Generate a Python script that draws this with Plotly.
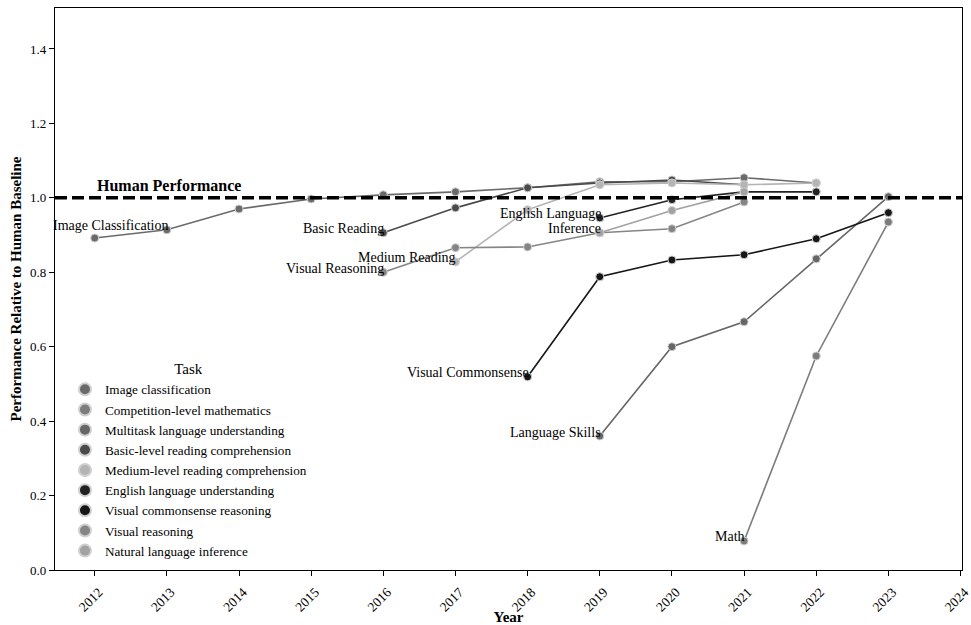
import plotly.graph_objects as go

# AI benchmark performance relative to the human baseline (1.0 = human level)
tasks = [
    "Image classification",
    "Competition-level mathematics",
    "Multitask language understanding",
    "Basic-level reading comprehension",
    "Medium-level reading comprehension",
    "English language understanding",
    "Visual commonsense reasoning",
    "Visual reasoning",
    "Natural language inference",
]

image_cls_years = [2012, 2013, 2014, 2015, 2016, 2017, 2018, 2019, 2020, 2021, 2022]
image_cls_vals = [0.892, 0.914, 0.970, 0.997, 1.008, 1.016, 1.027, 1.043, 1.043, 1.054, 1.040]

math_years = [2021, 2022, 2023]
math_vals = [0.078, 0.575, 0.935]

mmlu_years = [2019, 2020, 2021, 2022, 2023]
mmlu_vals = [0.360, 0.600, 0.667, 0.836, 1.003]

basic_read_years = [2016, 2017, 2018, 2019, 2020, 2021]
basic_read_vals = [0.906, 0.973, 1.027, 1.040, 1.048, 1.035]

medium_read_years = [2017, 2018, 2019, 2020, 2021, 2022]
medium_read_vals = [0.828, 0.968, 1.035, 1.040, 1.035, 1.040]

english_years = [2019, 2020, 2021, 2022]
english_vals = [0.946, 0.995, 1.016, 1.016]

vcr_years = [2018, 2019, 2020, 2021, 2022, 2023]
vcr_vals = [0.519, 0.788, 0.833, 0.847, 0.890, 0.960]

visual_reason_years = [2016, 2017, 2018, 2019, 2020, 2021]
visual_reason_vals = [0.800, 0.866, 0.868, 0.906, 0.917, 0.989]

nli_years = [2019, 2020, 2021]
nli_vals = [0.906, 0.966, 1.016]

series_years = [image_cls_years, math_years, mmlu_years, basic_read_years,
                medium_read_years, english_years, vcr_years,
                visual_reason_years, nli_years]
series_vals = [image_cls_vals, math_vals, mmlu_vals, basic_read_vals,
               medium_read_vals, english_vals, vcr_vals,
               visual_reason_vals, nli_vals]
series_colors = ["#6a6a6a", "#7c7c7c", "#666666", "#4a4a4a", "#b4b4b4",
                 "#222222", "#161616", "#858585", "#a2a2a2"]

# Short labels drawn beside one point of each line (series index, label, point index)
short_labels = [
    (0, "Image Classification", 1),
    (3, "Basic Reading", 0),
    (7, "Visual Reasoning", 0),
    (4, "Medium Reading", 0),
    (5, "English Language", 0),
    (8, "Inference", 0),
    (6, "Visual Commonsense", 0),
    (2, "Language Skills", 0),
    (1, "Math", 0),
]

year_ticks = list(range(2012, 2025))
y_ticks = [0.0, 0.2, 0.4, 0.6, 0.8, 1.0, 1.2, 1.4]

FONT = "Liberation Serif, Times New Roman, serif"

fig = go.Figure()

for name, xs, ys, col in zip(tasks, series_years, series_vals, series_colors):
    fig.add_trace(go.Scatter(
        x=xs, y=ys, name=name, mode="lines+markers", showlegend=False,
        line=dict(color=col, width=1.6),
        marker=dict(color=col, size=8, line=dict(color="#d0d0d0", width=1)),
    ))

# Legend entries show the marker only
for name, col in zip(tasks, series_colors):
    fig.add_trace(go.Scatter(
        x=[None], y=[None], name=name, mode="markers",
        marker=dict(color=col, size=8, line=dict(color="#d0d0d0", width=1)),
    ))

# Human baseline
fig.add_shape(type="line", xref="paper", yref="y", x0=0, x1=1, y0=1.0, y1=1.0,
              line=dict(color="black", width=3.5, dash="12px,5px"))
fig.add_annotation(x=2012, y=1.0, text="<b>Human Performance</b>", showarrow=False,
                   xanchor="left", yanchor="bottom", yshift=2,
                   font=dict(family=FONT, size=16, color="black"))

for idx, label, pt in short_labels:
    fig.add_annotation(x=series_years[idx][pt], y=series_vals[idx][pt], text=label,
                       showarrow=False, xanchor="right", yanchor="middle",
                       yshift=4, xshift=3,
                       font=dict(family=FONT, size=14, color="black"))

fig.update_layout(
    width=971, height=625,
    margin=dict(l=55, r=9, t=8, b=55, autoexpand=False),
    paper_bgcolor="white", plot_bgcolor="white",
    font=dict(family=FONT, size=13, color="black"),
    showlegend=True,
    legend=dict(
        title=dict(text="Task", side="top center", font=dict(family=FONT, size=15)),
        x=0.011, y=0.383, xanchor="left", yanchor="top",
        bgcolor="rgba(255,255,255,0.6)", borderwidth=0,
        font=dict(family=FONT, size=13.2), itemsizing="constant",
        tracegroupgap=0,
    ),
    xaxis=dict(
        range=[2011.45, 2024.02], tickmode="array", tickvals=year_ticks,
        ticktext=[str(y) for y in year_ticks], tickangle=-45,
        ticklabelshift=4, ticklabelstandoff=3, ticklabeloverflow="allow",
        automargin=False,
        showgrid=False, zeroline=False, showline=True, linecolor="black",
        linewidth=1.2, mirror=True, ticks="outside", ticklen=5, tickcolor="black",
        tickfont=dict(family=FONT, size=13.5),
        title=dict(text="<b>Year</b>", font=dict(family=FONT, size=15), standoff=2),
    ),
    yaxis=dict(
        range=[0, 1.51], tickmode="array", tickvals=y_ticks,
        ticktext=[f"{v:.1f}" for v in y_ticks], automargin=False,
        showgrid=False, zeroline=False, showline=True, linecolor="black",
        linewidth=1.2, mirror=True, ticks="outside", ticklen=5, tickcolor="black",
        tickfont=dict(family=FONT, size=13),
        title=dict(text="<b>Performance Relative to Human Baseline</b>",
                   font=dict(family=FONT, size=15), standoff=4),
    ),
)

fig.write_html("out.html")
